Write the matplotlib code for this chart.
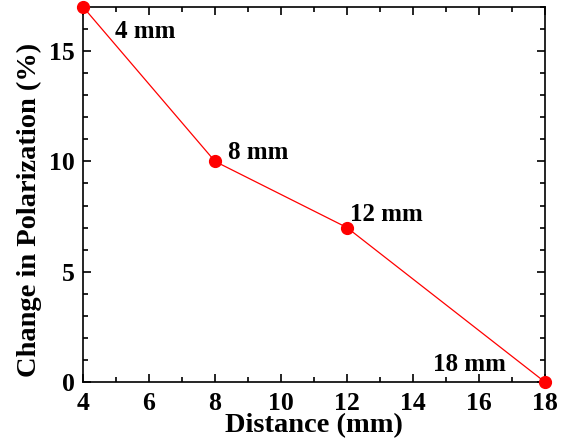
import matplotlib
matplotlib.use('Agg')
import matplotlib.pyplot as plt
from matplotlib.ticker import MultipleLocator

# data
distance = [4, 8, 12, 18]
polarization = [17, 10, 7, 0]
point_labels = ['4 mm', '8 mm', '12 mm', '18 mm']
label_pos = [(4.97, 15.9), (8.4, 10.4), (12.1, 7.6), (14.6, 0.8)]

plt.rcParams['font.family'] = ['Liberation Serif', 'DejaVu Serif']
plt.rcParams['font.weight'] = 'bold'

fig = plt.figure(figsize=(5.73, 4.47), dpi=100)
ax = fig.add_axes([0.145, 0.1454, 0.806, 0.839])

ax.plot(distance, polarization, color='red', lw=0.9, marker='o', ms=8.5,
        clip_on=False, zorder=5)
for txt, (tx, ty) in zip(point_labels, label_pos):
    ax.text(tx, ty, txt, fontsize=18, fontweight='bold', va='center', ha='left')

ax.set_xlim(4, 18)
ax.set_ylim(0, 17)
ax.xaxis.set_major_locator(MultipleLocator(2))
ax.xaxis.set_minor_locator(MultipleLocator(1))
ax.yaxis.set_major_locator(MultipleLocator(5))
ax.yaxis.set_minor_locator(MultipleLocator(1))
ax.tick_params(which='both', direction='in', top=True, right=True, width=1.2)
ax.tick_params(which='major', length=6, labelsize=18.5)
ax.tick_params(axis='x', which='major', pad=7)
ax.tick_params(axis='y', which='major', pad=6)
ax.tick_params(which='minor', length=3.5)
for lab in ax.get_xticklabels() + ax.get_yticklabels():
    lab.set_fontweight('bold')
for sp in ax.spines.values():
    sp.set_linewidth(1.2)

ax.set_xlabel('Distance (mm)', fontsize=20.5, fontweight='bold', labelpad=-1)
ax.set_ylabel('Change in Polarization (%)', fontsize=20.5, fontweight='bold', labelpad=5)
ax.yaxis.label.set_y(0.46)

fig.savefig('out.png', dpi=100)
